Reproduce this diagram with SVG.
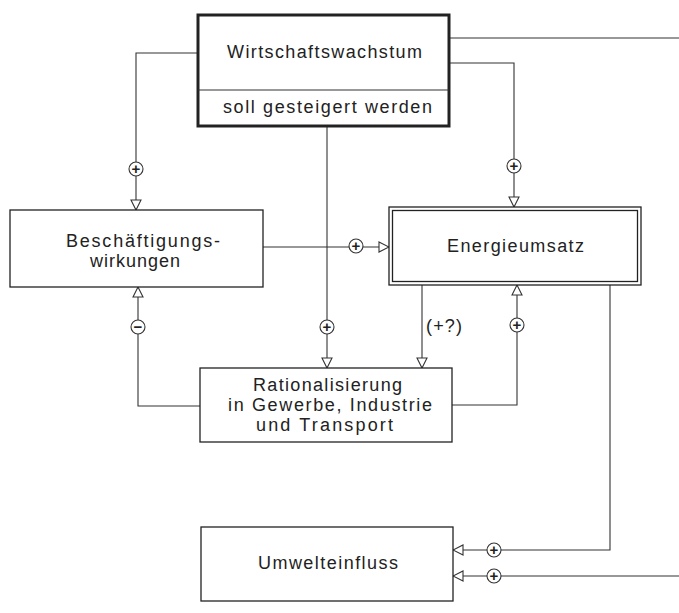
<svg xmlns="http://www.w3.org/2000/svg" width="679" height="613" viewBox="0 0 679 613">
<defs>
<style>
.box{fill:#fff;stroke:#222;stroke-width:1.3}
.thick{fill:#fff;stroke:#222;stroke-width:3}
.ln{fill:none;stroke:#333;stroke-width:1.1}
.arr{fill:none;stroke:#333;stroke-width:1.1;marker-end:url(#tri)}
.t{font-family:"Liberation Sans","DejaVu Sans",Arial,sans-serif;font-size:18px;fill:#222}
.sgn{fill:#fff;stroke:#333;stroke-width:1.1}
.st{font-family:"Liberation Sans","DejaVu Sans",Arial,sans-serif;font-size:15px;font-weight:bold;fill:#222;text-anchor:middle}
</style>
<marker id="tri" viewBox="0 0 12 12" refX="11" refY="6" markerWidth="12" markerHeight="12" markerUnits="userSpaceOnUse" orient="auto">
<path d="M1,1 L11,6 L1,11 Z" fill="#fff" stroke="#333" stroke-width="1.1"/>
</marker>
</defs>
<rect width="679" height="613" fill="#fff"/>

<g id="connectors">
<path class="ln" d="M449,38 H679"/>
<path class="arr" d="M449,63 H514 V207"/>
<path class="arr" d="M198,53 H136 V210"/>
<path class="arr" d="M327,126 V368"/>
<path class="arr" d="M263,247 H389"/>
<path class="arr" d="M422,285 V368"/>
<path class="arr" d="M452,405 H517 V285"/>
<path class="arr" d="M200,406 H138 V287"/>
<path class="arr" d="M610,285 V550 H453"/>
<path class="arr" d="M679,576 H453"/>
<g id="signs">
<circle class="sgn" cx="514" cy="166" r="7"/><text class="st" x="514" y="171">+</text>
<circle class="sgn" cx="136" cy="169" r="7"/><text class="st" x="136" y="174">+</text>
<circle class="sgn" cx="327" cy="327" r="7"/><text class="st" x="327" y="332">+</text>
<circle class="sgn" cx="356" cy="246" r="7"/><text class="st" x="356" y="251">+</text>
<circle class="sgn" cx="517" cy="325" r="7"/><text class="st" x="517" y="330">+</text>
<circle class="sgn" cx="138" cy="327" r="7"/><text class="st" x="138" y="332">−</text>
<circle class="sgn" cx="494" cy="550" r="7"/><text class="st" x="494" y="555">+</text>
<circle class="sgn" cx="494" cy="576" r="7"/><text class="st" x="494" y="581">+</text>
</g>
<text class="t" x="426" y="332" textLength="36" lengthAdjust="spacing">(+?)</text>
</g>

<g id="wirtschaftswachstum">
<rect class="thick" x="198" y="15" width="251" height="111"/>
<line class="ln" x1="198" y1="90" x2="449" y2="90"/>
<text class="t" x="227" y="58" textLength="195" lengthAdjust="spacing">Wirtschaftswachstum</text>
<text class="t" x="223" y="113" textLength="209" lengthAdjust="spacing">soll gesteigert werden</text>
</g>

<g id="beschaeftigung">
<rect class="box" x="10" y="210" width="253" height="77"/>
<text class="t" x="66" y="247" textLength="154" lengthAdjust="spacing">Beschäftigungs-</text>
<text class="t" x="90" y="267" textLength="90" lengthAdjust="spacing">wirkungen</text>
</g>

<g id="energieumsatz">
<rect class="box" x="389" y="207" width="252" height="78"/>
<rect class="box" x="392.5" y="210.5" width="245" height="71"/>
<text class="t" x="447" y="252" textLength="137" lengthAdjust="spacing">Energieumsatz</text>
</g>

<g id="rationalisierung">
<rect class="box" x="200" y="368" width="252" height="74"/>
<text class="t" x="253" y="391" textLength="149" lengthAdjust="spacing">Rationalisierung</text>
<text class="t" x="228" y="411" textLength="204" lengthAdjust="spacing">in Gewerbe, Industrie</text>
<text class="t" x="256" y="431" textLength="137" lengthAdjust="spacing">und Transport</text>
</g>

<g id="umwelteinfluss">
<rect class="box" x="201" y="527" width="252" height="74"/>
<text class="t" x="258" y="569" textLength="140" lengthAdjust="spacing">Umwelteinfluss</text>
</g>
</svg>
